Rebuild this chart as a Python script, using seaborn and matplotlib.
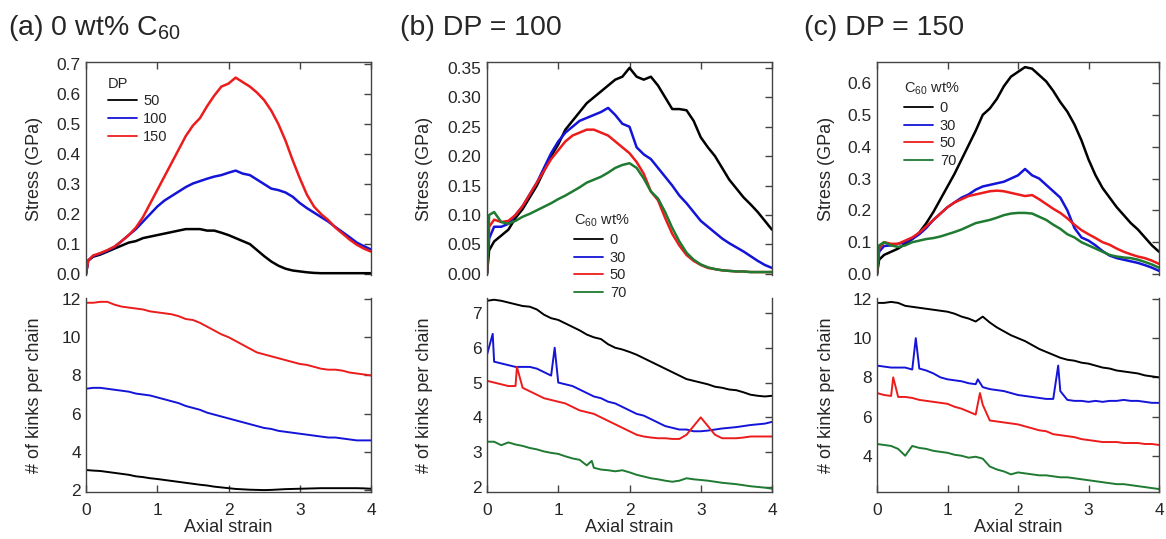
import numpy as np
import pandas as pd
import seaborn as sns
from matplotlib import pyplot as plt
from matplotlib.lines import Line2D
from matplotlib.ticker import FormatStrFormatter

sns.set_theme(style='white')
plt.rcParams['font.family'] = ['Liberation Sans', 'DejaVu Sans']
plt.rcParams['mathtext.fontset'] = 'custom'
plt.rcParams['mathtext.rm'] = 'Liberation Sans'
plt.rcParams['mathtext.it'] = 'Liberation Sans:italic'

# strain grids (top panels have one extra early point for the steep initial rise)
strain_top = [0, 0.03, 0.1, 0.2, 0.3, 0.4, 0.5, 0.6, 0.7, 0.8, 0.9, 1.0,
              1.1, 1.2, 1.3, 1.4, 1.5, 1.6, 1.7, 1.8, 1.9, 2.0,
              2.1, 2.2, 2.3, 2.4, 2.5, 2.6, 2.7, 2.8, 2.9, 3.0,
              3.1, 3.2, 3.3, 3.4, 3.5, 3.6, 3.7, 3.8, 3.9, 4.0]
strain = [0.0, 0.1, 0.2, 0.3, 0.4, 0.5, 0.6, 0.7, 0.8, 0.9, 1.0,
          1.1, 1.2, 1.3, 1.4, 1.5, 1.6, 1.7, 1.8, 1.9, 2.0,
          2.1, 2.2, 2.3, 2.4, 2.5, 2.6, 2.7, 2.8, 2.9, 3.0,
          3.1, 3.2, 3.3, 3.4, 3.5, 3.6, 3.7, 3.8, 3.9, 4.0]

# (a) 0 wt% C60, stress (GPa)
a_stress_50 = [0, 0.045, 0.058, 0.065, 0.075, 0.085, 0.095, 0.105, 0.11, 0.12, 0.125, 0.13,
               0.135, 0.14, 0.145, 0.15, 0.15, 0.15, 0.145, 0.145, 0.138, 0.13,
               0.12, 0.11, 0.1, 0.08, 0.06, 0.042, 0.028, 0.018, 0.012, 0.009,
               0.006, 0.004, 0.003, 0.003, 0.003, 0.003, 0.003, 0.003, 0.003, 0.003]
a_stress_100 = [0, 0.045, 0.06, 0.068, 0.078, 0.09, 0.11, 0.13, 0.15, 0.175, 0.2, 0.225,
                0.245, 0.26, 0.275, 0.29, 0.302, 0.31, 0.318, 0.325, 0.33, 0.338,
                0.345, 0.335, 0.33, 0.315, 0.3, 0.285, 0.28, 0.272, 0.258, 0.237,
                0.22, 0.205, 0.19, 0.175, 0.157, 0.14, 0.123, 0.105, 0.093, 0.082]
a_stress_150 = [0, 0.045, 0.062, 0.07, 0.08, 0.092, 0.11, 0.13, 0.155, 0.19, 0.235, 0.28,
                0.325, 0.37, 0.415, 0.46, 0.495, 0.52, 0.56, 0.595, 0.625, 0.635,
                0.655, 0.64, 0.625, 0.605, 0.58, 0.545, 0.5, 0.445, 0.38, 0.32,
                0.265, 0.225, 0.2, 0.18, 0.155, 0.135, 0.115, 0.098, 0.085, 0.075]

# (a) kinks per chain
a_kinks_50 = [3.05, 3.02, 3.0, 2.95, 2.9, 2.85, 2.8, 2.72, 2.68, 2.62,
              2.58, 2.53, 2.48, 2.43, 2.38, 2.33, 2.28, 2.24, 2.18, 2.14,
              2.1, 2.06, 2.04, 2.02, 2.01, 2.0, 2.01, 2.03, 2.05, 2.06,
              2.07, 2.08, 2.09, 2.1, 2.1, 2.1, 2.1, 2.1, 2.1, 2.09, 2.07]
a_kinks_100 = [7.3, 7.35, 7.35, 7.3, 7.25, 7.2, 7.15, 7.05, 7.0, 6.95,
               6.85, 6.75, 6.65, 6.55, 6.4, 6.3, 6.2, 6.05, 5.95, 5.85,
               5.75, 5.65, 5.55, 5.45, 5.35, 5.25, 5.2, 5.1, 5.05, 5.0,
               4.95, 4.9, 4.85, 4.8, 4.75, 4.75, 4.7, 4.65, 4.6, 4.6, 4.6]
a_kinks_150 = [11.8, 11.8, 11.85, 11.85, 11.7, 11.6, 11.55, 11.5, 11.45, 11.35,
               11.3, 11.25, 11.2, 11.1, 10.95, 10.9, 10.75, 10.55, 10.35, 10.15,
               10.0, 9.8, 9.6, 9.4, 9.2, 9.1, 9.0, 8.9, 8.8, 8.7,
               8.6, 8.55, 8.45, 8.35, 8.3, 8.3, 8.25, 8.15, 8.1, 8.05, 8.0]

# (b) DP = 100, stress (GPa)
b_stress_0 = [0, 0.04, 0.055, 0.065, 0.075, 0.095, 0.11, 0.13, 0.15, 0.175, 0.2, 0.22,
              0.245, 0.26, 0.275, 0.29, 0.3, 0.31, 0.32, 0.33, 0.335, 0.35,
              0.335, 0.33, 0.335, 0.32, 0.3, 0.28, 0.28, 0.278, 0.26, 0.232,
              0.215, 0.2, 0.18, 0.16, 0.145, 0.13, 0.118, 0.105, 0.09, 0.075]
b_stress_30 = [0, 0.06, 0.08, 0.08, 0.085, 0.1, 0.115, 0.135, 0.155, 0.18, 0.205, 0.225,
               0.24, 0.25, 0.26, 0.265, 0.27, 0.275, 0.282, 0.27, 0.255, 0.25,
               0.215, 0.203, 0.195, 0.18, 0.165, 0.15, 0.133, 0.12, 0.105, 0.09,
               0.08, 0.07, 0.06, 0.052, 0.045, 0.038, 0.03, 0.022, 0.015, 0.01]
b_stress_50 = [0, 0.08, 0.092, 0.088, 0.09, 0.1, 0.115, 0.135, 0.155, 0.175, 0.195, 0.21,
               0.225, 0.235, 0.24, 0.245, 0.245, 0.24, 0.235, 0.225, 0.215, 0.205,
               0.19, 0.17, 0.14, 0.125, 0.095, 0.068, 0.048, 0.032, 0.022, 0.015,
               0.01, 0.008, 0.006, 0.005, 0.004, 0.004, 0.003, 0.003, 0.003, 0.003]
b_stress_70 = [0, 0.1, 0.105, 0.088, 0.085, 0.09, 0.097, 0.102, 0.108, 0.114, 0.12, 0.127,
               0.133, 0.14, 0.147, 0.155, 0.16, 0.165, 0.172, 0.18, 0.185, 0.188,
               0.18, 0.162, 0.14, 0.128, 0.105, 0.078, 0.055, 0.036, 0.024, 0.016,
               0.011, 0.008, 0.006, 0.005, 0.004, 0.004, 0.003, 0.003, 0.003, 0.003]

# (b) kinks per chain
b_kinks_0 = [7.35, 7.38, 7.35, 7.3, 7.25, 7.2, 7.18, 7.1, 6.95, 6.85,
             6.8, 6.7, 6.6, 6.5, 6.38, 6.3, 6.25, 6.1, 6.0, 5.95,
             5.88, 5.8, 5.7, 5.6, 5.5, 5.4, 5.3, 5.2, 5.1, 5.05,
             5.0, 4.95, 4.88, 4.85, 4.8, 4.78, 4.72, 4.65, 4.62, 4.6, 4.62]
b_kinks_30 = [5.8, 5.6, 5.55, 5.5, 5.45, 5.45, 5.45, 5.4, 5.3, 5.2,
              5.0, 4.95, 4.9, 4.8, 4.7, 4.6, 4.55, 4.45, 4.4, 4.3,
              4.2, 4.1, 4.05, 3.95, 3.85, 3.75, 3.7, 3.65, 3.65, 3.6,
              3.6, 3.62, 3.65, 3.68, 3.7, 3.72, 3.75, 3.78, 3.8, 3.82, 3.87]
b_kinks_50 = [5.05, 5.0, 4.95, 4.9, 4.9, 4.85, 4.75, 4.65, 4.55, 4.5,
              4.45, 4.4, 4.3, 4.2, 4.15, 4.1, 4.0, 3.9, 3.8, 3.7,
              3.6, 3.5, 3.45, 3.42, 3.4, 3.4, 3.38, 3.38, 3.5, 3.75,
              4.0, 3.75, 3.5, 3.4, 3.4, 3.4, 3.42, 3.45, 3.45, 3.45, 3.45]
b_kinks_70 = [3.3, 3.3, 3.2, 3.28, 3.22, 3.18, 3.12, 3.08, 3.02, 2.98,
              2.95, 2.88, 2.82, 2.78, 2.62, 2.55, 2.5, 2.48, 2.45, 2.48,
              2.42, 2.35, 2.3, 2.25, 2.22, 2.18, 2.15, 2.18, 2.25, 2.22,
              2.2, 2.18, 2.15, 2.12, 2.1, 2.08, 2.05, 2.02, 2.0, 1.98, 1.95]
b_spikes = {'30': [(0.08, 6.4), (0.95, 6.0)], '50': [(0.42, 5.45)], '70': [(1.47, 2.75)]}

# (c) DP = 150, stress (GPa)
c_stress_0 = [0, 0.045, 0.06, 0.07, 0.08, 0.095, 0.11, 0.13, 0.16, 0.195, 0.235, 0.275,
              0.315, 0.36, 0.405, 0.45, 0.5, 0.52, 0.55, 0.59, 0.62, 0.635,
              0.65, 0.645, 0.625, 0.605, 0.575, 0.54, 0.51, 0.47, 0.42, 0.36,
              0.31, 0.27, 0.24, 0.21, 0.185, 0.16, 0.14, 0.115, 0.09, 0.07]
c_stress_30 = [0, 0.07, 0.088, 0.09, 0.095, 0.1, 0.11, 0.125, 0.145, 0.17, 0.19, 0.21,
               0.225, 0.24, 0.25, 0.265, 0.275, 0.28, 0.285, 0.29, 0.3, 0.31,
               0.33, 0.31, 0.3, 0.28, 0.26, 0.24, 0.2, 0.145, 0.115, 0.105,
               0.09, 0.072, 0.058, 0.05, 0.045, 0.04, 0.035, 0.028, 0.02, 0.01]
c_stress_50 = [0, 0.08, 0.1, 0.095, 0.095, 0.105, 0.115, 0.13, 0.15, 0.17, 0.19, 0.21,
               0.225, 0.235, 0.245, 0.25, 0.255, 0.26, 0.262, 0.26, 0.255, 0.25,
               0.245, 0.248, 0.235, 0.22, 0.205, 0.192, 0.175, 0.155, 0.138, 0.125,
               0.113, 0.1, 0.092, 0.08, 0.07, 0.062, 0.055, 0.05, 0.042, 0.032]
c_stress_70 = [0, 0.09, 0.1, 0.09, 0.085, 0.09, 0.1, 0.105, 0.11, 0.113, 0.118, 0.125,
               0.132, 0.14, 0.15, 0.16, 0.165, 0.17, 0.177, 0.185, 0.19, 0.192,
               0.192, 0.19, 0.18, 0.17, 0.155, 0.142, 0.125, 0.115, 0.1, 0.09,
               0.08, 0.07, 0.06, 0.055, 0.052, 0.05, 0.045, 0.038, 0.03, 0.02]

# (c) kinks per chain
c_kinks_0 = [11.8, 11.8, 11.85, 11.8, 11.65, 11.6, 11.55, 11.5, 11.45, 11.4,
             11.35, 11.25, 11.1, 11.0, 10.85, 11.1, 10.8, 10.55, 10.35, 10.15,
             10.0, 9.85, 9.65, 9.45, 9.3, 9.15, 9.0, 8.9, 8.85, 8.75,
             8.7, 8.6, 8.5, 8.45, 8.35, 8.3, 8.25, 8.2, 8.1, 8.05, 8.0]
c_kinks_30 = [8.6, 8.55, 8.5, 8.5, 8.5, 8.4, 8.45, 8.35, 8.2, 8.0,
              7.9, 7.85, 7.8, 7.7, 7.65, 7.5, 7.4, 7.35, 7.3, 7.2,
              7.1, 7.05, 7.0, 6.95, 6.9, 6.9, 7.3, 6.85, 6.8, 6.8,
              6.75, 6.8, 6.75, 6.8, 6.8, 6.85, 6.8, 6.8, 6.75, 6.7, 6.7]
c_kinks_50 = [7.2, 7.1, 7.05, 7.0, 7.0, 6.95, 6.85, 6.8, 6.75, 6.7,
              6.65, 6.5, 6.4, 6.25, 6.1, 6.6, 5.8, 5.75, 5.7, 5.65,
              5.6, 5.5, 5.4, 5.3, 5.25, 5.1, 5.05, 5.0, 4.95, 4.85,
              4.8, 4.75, 4.7, 4.7, 4.7, 4.65, 4.65, 4.65, 4.6, 4.6, 4.55]
c_kinks_70 = [4.6, 4.55, 4.5, 4.35, 4.0, 4.5, 4.4, 4.35, 4.25, 4.2,
              4.15, 4.05, 4.0, 3.9, 3.95, 3.85, 3.45, 3.3, 3.2, 3.05,
              3.15, 3.1, 3.05, 3.0, 3.0, 2.95, 2.9, 2.9, 2.85, 2.8,
              2.75, 2.7, 2.65, 2.6, 2.55, 2.55, 2.5, 2.45, 2.4, 2.35, 2.3]
c_spikes = {'30': [(0.55, 10.0), (1.43, 7.9), (2.57, 8.6)],
            '50': [(0.23, 8.0), (1.46, 7.2)]}

dp_labels = ['50', '100', '150']
c60_labels = ['0', '30', '50', '70']
dp_colors = ['#000000', '#1414d8', '#ec1c1c']
c60_colors = ['#000000', '#1414d8', '#ec1c1c', '#1f7a32']


def long_table(x, series, spikes=None):
    rows = []
    for name, y in series.items():
        assert len(x) == len(y), name
        pts = sorted(list(zip(x, y)) + (spikes or {}).get(name, []))
        rows += [(s, v, name) for s, v in pts]
    return pd.DataFrame(rows, columns=['strain', 'value', 'series'])


spine_col = '#444444'


def style_axes(ax, top):
    ax.set_xlim(0, 4)
    ax.set_xticks([0, 1, 2, 3, 4])
    for sp in ax.spines.values():
        sp.set_color(spine_col)
        sp.set_linewidth(1.0)
    if top:
        ax.spines['bottom'].set_visible(False)
        ax.tick_params(direction='in', top=True, right=True, bottom=False,
                       labelbottom=False, length=5, width=1, color=spine_col,
                       labelsize=12.5, pad=4)
        ax.set_xlabel('')
    else:
        ax.spines['top'].set_visible(False)
        ax.tick_params(direction='in', top=False, right=True, bottom=True,
                       length=5, width=1, color=spine_col, labelsize=12.5)
        ax.tick_params(axis='x', pad=8)
        ax.set_xlabel('Axial strain', fontsize=13)
        ax.xaxis.set_label_coords(0.5, -0.14)
    ax.set_facecolor('none')


fig = plt.figure(figsize=(11.66, 5.39), dpi=100)
W, H = 1166, 539
lefts = [86, 487, 877]
widths = [285, 285, 282]


def add(left, width, top_px, bot_px):
    return fig.add_axes([left / W, 1 - bot_px / H, width / W, (bot_px - top_px) / H])


panels = [
    dict(title='(a) 0 wt% C$_{60}$', tx=8, labels=dp_labels, colors=dp_colors,
         stress=[a_stress_50, a_stress_100, a_stress_150],
         kinks=[a_kinks_50, a_kinks_100, a_kinks_150], spikes={},
         sylim=(-0.003, 0.707), syt=[0, 0.1, 0.2, 0.3, 0.4, 0.5, 0.6, 0.7], sfmt='%.1f',
         kylim=(1.9, 12.05), kyt=[2, 4, 6, 8, 10, 12], labx=-0.15,
         leg_title='DP', leg_anchor=(0.05, 0.965), leg_size=10.5),
    dict(title='(b) DP = 100', tx=400, labels=c60_labels, colors=c60_colors,
         stress=[b_stress_0, b_stress_30, b_stress_50, b_stress_70],
         kinks=[b_kinks_0, b_kinks_30, b_kinks_50, b_kinks_70], spikes=b_spikes,
         sylim=(-0.002, 0.36), syt=[0, 0.05, 0.1, 0.15, 0.2, 0.25, 0.3, 0.35], sfmt='%.2f',
         kylim=(1.855, 7.43), kyt=[2, 3, 4, 5, 6, 7], labx=-0.19,
         leg_title='C$_{60}$ wt%', leg_anchor=(0.28, 0.325), leg_size=10.5),
    dict(title='(c) DP = 150', tx=804, labels=c60_labels, colors=c60_colors,
         stress=[c_stress_0, c_stress_30, c_stress_50, c_stress_70],
         kinks=[c_kinks_0, c_kinks_30, c_kinks_50, c_kinks_70], spikes=c_spikes,
         sylim=(-0.003, 0.666), syt=[0, 0.1, 0.2, 0.3, 0.4, 0.5, 0.6], sfmt='%.1f',
         kylim=(2.15, 12.05), kyt=[4, 6, 8, 10, 12], labx=-0.15,
         leg_title='C$_{60}$ wt%', leg_anchor=(0.07, 0.945), leg_size=10.5),
]

for left, width, p in zip(lefts, widths, panels):
    ax_s = add(left, width, 62, 275)
    ax_k = add(left, width, 298, 492)
    pal = dict(zip(p['labels'], p['colors']))

    df_s = long_table(strain_top, dict(zip(p['labels'], p['stress'])))
    sns.lineplot(data=df_s, x='strain', y='value', hue='series', hue_order=p['labels'],
                 palette=pal, estimator=None, sort=False, legend=False, lw=1.8, ax=ax_s)
    df_k = long_table(strain, dict(zip(p['labels'], p['kinks'])), p['spikes'])
    sns.lineplot(data=df_k, x='strain', y='value', hue='series', hue_order=p['labels'],
                 palette=pal, estimator=None, sort=False, legend=False, lw=1.4, ax=ax_k)

    style_axes(ax_s, True)
    style_axes(ax_k, False)
    ax_s.set_ylim(*p['sylim'])
    ax_s.set_yticks(p['syt'])
    ax_s.yaxis.set_major_formatter(FormatStrFormatter(p['sfmt']))
    ax_k.set_ylim(*p['kylim'])
    ax_k.set_yticks(p['kyt'])
    ax_s.set_ylabel('Stress (GPa)', fontsize=13)
    ax_k.set_ylabel('# of kinks per chain', fontsize=13)
    ax_s.yaxis.set_label_coords(p['labx'], 0.5)
    ax_k.yaxis.set_label_coords(p['labx'], 0.5)

    handles = [Line2D([], [], color=c, lw=1.3) for c in p['colors']]
    ax_s.legend(handles, p['labels'], title=p['leg_title'], loc='upper left',
                bbox_to_anchor=p['leg_anchor'], frameon=False, fontsize=p['leg_size'],
                title_fontsize=p['leg_size'], alignment='left', borderpad=0,
                handlelength=2.0, handletextpad=0.45, labelspacing=0.25)

    fig.text(p['tx'] / W, 1 - 35 / H, p['title'], fontsize=20.5, va='baseline', ha='left')

fig.savefig('out.png', dpi=100)
